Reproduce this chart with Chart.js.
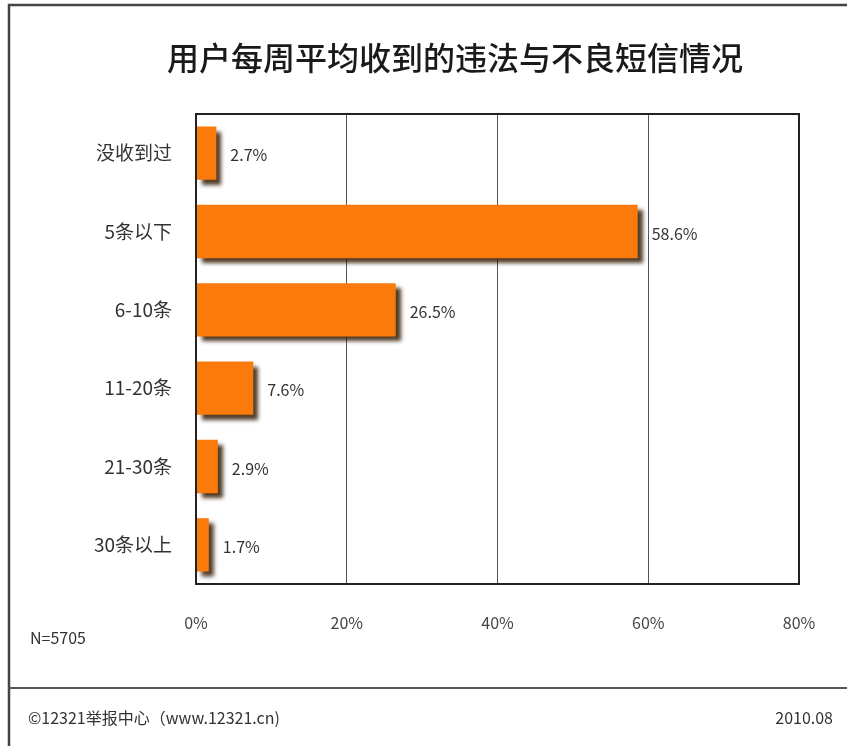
<!DOCTYPE html>
<html>
<head>
<meta charset="utf-8">
<script src="https://cdn.jsdelivr.net/npm/chart.js@4/dist/chart.umd.min.js"></script>
<style>
html,body{margin:0;padding:0;background:#fff;}
canvas{display:block;}
</style>
</head>
<body>
<canvas id="c" width="847" height="746"></canvas>
<script>
const categories = ['没收到过','5条以下','6-10条','11-20条','21-30条','30条以上'];
const values = [2.7, 58.6, 26.5, 7.6, 2.9, 1.7];
const xTicks = [0, 20, 40, 60, 80];
const titleText = '用户每周平均收到的违法与不良短信情况';
const sampleNote = 'N=5705';
const sourceNote = '©12321举报中心（www.12321.cn)';
const dateNote = '2010.08';

const FONT = '"Noto Sans CJK SC", "Noto Sans", sans-serif';

const shadowPlugin = {
  id: 'barShadow',
  beforeDatasetsDraw(chart) {
    const ctx = chart.ctx;
    ctx.save();
    ctx.shadowColor = 'rgba(50,25,0,0.85)';
    ctx.shadowOffsetX = 5;
    ctx.shadowOffsetY = 5;
    ctx.shadowBlur = 4;
  },
  afterDatasetsDraw(chart) {
    const ctx = chart.ctx;
    ctx.restore();
    const meta = chart.getDatasetMeta(0);
    ctx.save();
    ctx.font = '16px ' + FONT;
    ctx.fillStyle = '#333';
    ctx.textAlign = 'left';
    ctx.textBaseline = 'middle';
    meta.data.forEach((bar, i) => {
      ctx.fillText(values[i].toFixed(1) + '%', bar.x + 14, bar.y + 2);
    });
    ctx.restore();
  }
};

const framePlugin = {
  id: 'frame',
  afterDraw(chart) {
    const ctx = chart.ctx;
    const a = chart.chartArea;
    ctx.save();
    ctx.strokeStyle = '#222';
    ctx.lineWidth = 2;
    ctx.strokeRect(a.left, a.top, a.right - a.left, a.bottom - a.top);
    ctx.strokeStyle = '#444';
    ctx.lineWidth = 2.5;
    ctx.beginPath();
    ctx.moveTo(9, 746);
    ctx.lineTo(9, 5);
    ctx.lineTo(847, 5);
    ctx.stroke();
    ctx.strokeStyle = '#555';
    ctx.lineWidth = 2;
    ctx.beginPath();
    ctx.moveTo(9, 688);
    ctx.lineTo(847, 688);
    ctx.stroke();
    ctx.fillStyle = '#1a1a1a';
    ctx.font = '500 32px ' + FONT;
    ctx.textAlign = 'center';
    ctx.textBaseline = 'middle';
    ctx.fillText(titleText, 455, 58);
    ctx.fillStyle = '#333';
    ctx.font = '16px ' + FONT;
    ctx.textAlign = 'left';
    ctx.fillText(sampleNote, 30, 638);
    ctx.fillText(sourceNote, 28, 718);
    ctx.textAlign = 'right';
    ctx.fillText(dateNote, 833, 718);
    ctx.restore();
  }
};

new Chart(document.getElementById('c'), {
  type: 'bar',
  data: {
    labels: categories,
    datasets: [{
      data: values,
      backgroundColor: '#FA7A0C',
      borderWidth: 0,
      barPercentage: 0.68,
      categoryPercentage: 1.0
    }]
  },
  options: {
    indexAxis: 'y',
    responsive: false,
    devicePixelRatio: 1,
    animation: false,
    layout: { padding: { left: 0, right: 48, top: 114, bottom: 0 } },
    plugins: {
      legend: { display: false },
      tooltip: { enabled: false },
      title: { display: false }
    },
    scales: {
      x: {
        min: 0,
        max: 80,
        afterBuildTicks(scale) { scale.ticks = xTicks.map(v => ({ value: v })); },
        afterFit(scale) { scale.height = 746 - 584; },
        ticks: {
          padding: 29,
          color: '#444',
          font: { family: FONT, size: 16 },
          callback: v => v + '%'
        },
        grid: {
          drawTicks: false,
          lineWidth: 1,
          color: ctx => (ctx.tick && (ctx.tick.value === 0 || ctx.tick.value === 80)) ? 'rgba(0,0,0,0)' : '#555'
        },
        border: { display: false }
      },
      y: {
        afterFit(scale) { scale.width = 196; },
        ticks: {
          padding: 24,
          color: '#333',
          font: { family: FONT, size: 19 }
        },
        grid: { display: false, drawTicks: false },
        border: { display: false }
      }
    }
  },
  plugins: [shadowPlugin, framePlugin]
});
</script>
</body>
</html>
